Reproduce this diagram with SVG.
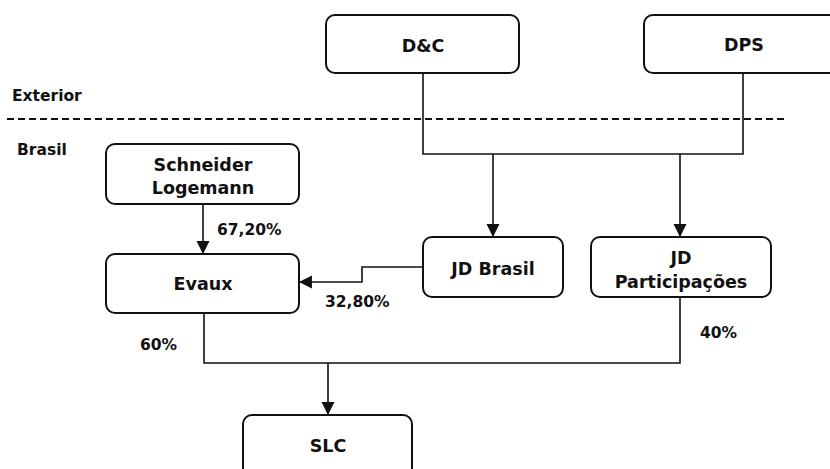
<svg xmlns="http://www.w3.org/2000/svg" width="830" height="469" viewBox="0 0 830 469">
<defs>
<style>
.box{fill:#fff;stroke:#111;stroke-width:2}
.t{font-family:"DejaVu Sans","Liberation Sans",sans-serif;font-weight:bold;font-size:17.5px;fill:#111;text-anchor:middle}
.l{font-family:"DejaVu Sans","Liberation Sans",sans-serif;font-weight:bold;font-size:15.5px;fill:#111}
.c{fill:none;stroke:#111;stroke-width:1.6}
</style>
<marker id="ah" markerWidth="13" markerHeight="15" refX="11" refY="6" orient="auto" markerUnits="userSpaceOnUse" viewBox="0 0 12 12">
<path d="M0,0 L12,6 L0,12 Z" fill="#111"/>
</marker>
</defs>
<rect width="830" height="469" fill="#fff"/>
<text class="l" x="12" y="101">Exterior</text>
<text class="l" x="17" y="155">Brasil</text>
<line x1="7" y1="119" x2="785" y2="119" stroke="#111" stroke-width="2" stroke-dasharray="7,4"/>
<g id="connectors">
<path class="c" d="M423,73 V154 H743 V73"/>
<path class="c" d="M493,154 V236" marker-end="url(#ah)"/>
<path class="c" d="M680,154 V236" marker-end="url(#ah)"/>
<path class="c" d="M203,204 V253" marker-end="url(#ah)"/>
<path class="c" d="M423,267 H362 V282 H300" marker-end="url(#ah)"/>
<path class="c" d="M204,313 V363 H680 V297"/>
<path class="c" d="M328,363 V414" marker-end="url(#ah)"/>
</g>
<g id="dc"><rect class="box" x="326" y="15" width="193" height="58" rx="9"/><text class="t" x="423" y="52">D&amp;C</text></g>
<g id="dps"><rect class="box" x="644" y="15" width="220" height="58" rx="9"/><text class="t" x="744" y="51">DPS</text></g>
<g id="schneider"><rect class="box" x="106" y="144" width="193" height="60" rx="9"/><text class="t" x="203" y="171">Schneider</text><text class="t" x="203" y="194">Logemann</text></g>
<g id="evaux"><rect class="box" x="106" y="254" width="193" height="59" rx="9"/><text class="t" x="203" y="290">Evaux</text></g>
<g id="jdbrasil"><rect class="box" x="423" y="237" width="140" height="60" rx="9"/><text class="t" x="493" y="275">JD Brasil</text></g>
<g id="jdpart"><rect class="box" x="591" y="237" width="180" height="60" rx="9"/><text class="t" x="681" y="264">JD</text><text class="t" x="681" y="288">Participações</text></g>
<g id="slc"><rect class="box" x="243" y="415" width="169" height="70" rx="9"/><text class="t" x="328" y="452">SLC</text></g>
<text class="l" x="217" y="235">67,20%</text>
<text class="l" x="325" y="307">32,80%</text>
<text class="l" x="140" y="350">60%</text>
<text class="l" x="700" y="338">40%</text>
</svg>
